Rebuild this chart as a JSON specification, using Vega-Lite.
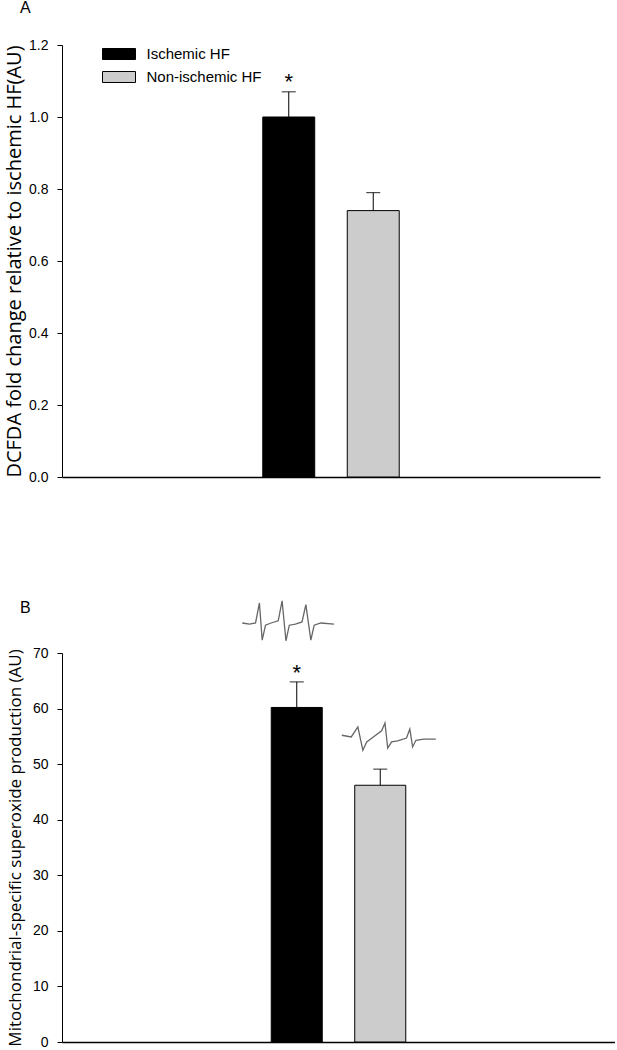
{
  "$schema": "https://vega.github.io/schema/vega-lite/v6.json",
  "padding": {"left": 4, "top": 0, "right": 0, "bottom": 0},
  "background": "white",
  "spacing": 114,
  "config": {
    "view": {"stroke": null},
    "font": "Liberation Sans",
    "axis": {
      "domainColor": "black",
      "tickColor": "black",
      "labelColor": "black",
      "labelFont": "Liberation Sans",
      "labelFontSize": 14,
      "tickSize": 5,
      "labelPadding": 9,
      "titleFont": "Open Sans",
      "titleFontSize": 20,
      "titleFontWeight": "normal",
      "titleColor": "black",
      "grid": false
    },
    "title": {"font": "Liberation Sans", "fontSize": 16, "fontWeight": "normal", "color": "black"}
  },
  "resolve": {"scale": {"color": "independent"}, "legend": {"color": "independent"}},
  "datasets": {
    "a": [
      {"group": "Ischemic HF", "mean": 1.0, "upper": 1.07, "sig": "*"},
      {"group": "Non-ischemic HF", "mean": 0.74, "upper": 0.79, "sig": ""}
    ],
    "b": [
      {"group": "Ischemic HF", "mean": 60.2, "upper": 64.8, "sig": "*"},
      {"group": "Non-ischemic HF", "mean": 46.2, "upper": 49.1, "sig": ""}
    ],
    "spectra": [
      {"spectrum": "Ischemic HF", "field": 32.6, "signal": 75.4},
      {"spectrum": "Ischemic HF", "field": 33.9, "signal": 75.2},
      {"spectrum": "Ischemic HF", "field": 35.0, "signal": 75.4},
      {"spectrum": "Ischemic HF", "field": 35.7, "signal": 79.0},
      {"spectrum": "Ischemic HF", "field": 36.2, "signal": 72.3},
      {"spectrum": "Ischemic HF", "field": 36.8, "signal": 75.0},
      {"spectrum": "Ischemic HF", "field": 37.8, "signal": 75.4},
      {"spectrum": "Ischemic HF", "field": 39.1, "signal": 75.8},
      {"spectrum": "Ischemic HF", "field": 39.8, "signal": 79.4},
      {"spectrum": "Ischemic HF", "field": 40.5, "signal": 72.2},
      {"spectrum": "Ischemic HF", "field": 41.1, "signal": 75.0},
      {"spectrum": "Ischemic HF", "field": 42.2, "signal": 75.2},
      {"spectrum": "Ischemic HF", "field": 43.4, "signal": 75.6},
      {"spectrum": "Ischemic HF", "field": 44.1, "signal": 78.7},
      {"spectrum": "Ischemic HF", "field": 45.0, "signal": 72.3},
      {"spectrum": "Ischemic HF", "field": 45.6, "signal": 75.0},
      {"spectrum": "Ischemic HF", "field": 46.8, "signal": 75.4},
      {"spectrum": "Ischemic HF", "field": 49.2, "signal": 75.2},
      {"spectrum": "Non-ischemic HF", "field": 50.6, "signal": 55.2},
      {"spectrum": "Non-ischemic HF", "field": 52.3, "signal": 54.9},
      {"spectrum": "Non-ischemic HF", "field": 53.5, "signal": 56.7},
      {"spectrum": "Non-ischemic HF", "field": 54.4, "signal": 52.5},
      {"spectrum": "Non-ischemic HF", "field": 55.1, "signal": 54.0},
      {"spectrum": "Non-ischemic HF", "field": 56.6, "signal": 55.1},
      {"spectrum": "Non-ischemic HF", "field": 57.8, "signal": 56.0},
      {"spectrum": "Non-ischemic HF", "field": 58.4, "signal": 57.4},
      {"spectrum": "Non-ischemic HF", "field": 58.9, "signal": 52.9},
      {"spectrum": "Non-ischemic HF", "field": 59.6, "signal": 54.0},
      {"spectrum": "Non-ischemic HF", "field": 60.7, "signal": 54.2},
      {"spectrum": "Non-ischemic HF", "field": 62.3, "signal": 54.7},
      {"spectrum": "Non-ischemic HF", "field": 62.9, "signal": 56.3},
      {"spectrum": "Non-ischemic HF", "field": 63.4, "signal": 53.1},
      {"spectrum": "Non-ischemic HF", "field": 64.0, "signal": 54.3},
      {"spectrum": "Non-ischemic HF", "field": 65.4, "signal": 54.5},
      {"spectrum": "Non-ischemic HF", "field": 67.6, "signal": 54.5}
    ]
  },
  "vconcat": [
    {
      "width": 538,
      "height": 432,
      "title": {"text": "A", "anchor": "start", "frame": "group", "dx": -42, "offset": 22},
      "data": {"name": "a"},
      "encoding": {
        "x": {
          "field": "group", "type": "nominal",
          "scale": {"domain": ["_l2", "_l1", "Ischemic HF", "Non-ischemic HF", "_r1", "_r2"], "paddingInner": 0.385, "paddingOuter": 0.376},
          "axis": {"labels": false, "ticks": false, "title": null, "domainWidth": 1.5}
        }
      },
      "layer": [
        {
          "mark": {"type": "bar", "stroke": "black", "strokeWidth": 1},
          "encoding": {
            "y": {
              "field": "mean", "type": "quantitative",
              "scale": {"domain": [0, 1.2]},
              "axis": {"title": "DCFDA fold change relative to ischemic HF(AU)", "values": [0, 0.2, 0.4, 0.6, 0.8, 1.0, 1.2], "format": ".1f", "titlePadding": 4}
            },
            "color": {
              "field": "group", "type": "nominal",
              "scale": {"domain": ["Ischemic HF", "Non-ischemic HF"], "range": ["#000000", "#cccccc"]},
              "legend": {
                "orient": "none", "legendX": 45.5, "legendY": -2.5, "title": null, "padding": 0,
                "symbolType": "M-1.5,-0.5H1.5V0.5H-1.5Z", "symbolSize": 484,
                "symbolStrokeColor": "black", "symbolStrokeWidth": 1,
                "labelFont": "Liberation Sans", "labelFontSize": 15, "labelColor": "black",
                "labelOffset": 16, "rowPadding": 3
              }
            }
          }
        },
        {
          "mark": {"type": "rule", "color": "black", "strokeWidth": 1},
          "encoding": {"y": {"field": "mean", "type": "quantitative"}, "y2": {"field": "upper"}}
        },
        {
          "mark": {"type": "tick", "color": "black", "size": 14, "thickness": 1.2},
          "encoding": {"y": {"field": "upper", "type": "quantitative"}}
        },
        {
          "mark": {"type": "text", "baseline": "alphabetic", "dy": -3, "fontSize": 22, "font": "Liberation Sans"},
          "encoding": {"y": {"field": "upper", "type": "quantitative"}, "text": {"field": "sig"}}
        }
      ]
    },
    {
      "width": 553,
      "height": 389,
      "title": {"text": "B", "anchor": "start", "frame": "group", "dx": -42, "offset": -17.5},
      "resolve": {"scale": {"x": "independent"}, "axis": {"x": "independent"}},
      "layer": [
        {
          "data": {"name": "b"},
          "layer": [
            {
              "mark": {"type": "bar", "stroke": "black", "strokeWidth": 1},
              "encoding": {
                "x": {
                  "field": "group", "type": "nominal",
                  "scale": {"domain": ["_l2", "_l1", "Ischemic HF", "Non-ischemic HF", "_r1", "_r2"], "paddingInner": 0.389, "paddingOuter": 0.506},
                  "axis": {"labels": false, "ticks": false, "title": null, "domainWidth": 1.5}
                },
                "y": {
                  "field": "mean", "type": "quantitative",
                  "scale": {"domain": [0, 70]},
                  "axis": {"title": "Mitochondrial-specific superoxide production (AU)", "values": [0, 10, 20, 30, 40, 50, 60, 70], "titlePadding": 8, "titleFontSize": 17}
                },
                "color": {
                  "field": "group", "type": "nominal",
                  "scale": {"domain": ["Ischemic HF", "Non-ischemic HF"], "range": ["#000000", "#cccccc"]},
                  "legend": null
                }
              }
            },
            {
              "mark": {"type": "rule", "color": "black", "strokeWidth": 1},
              "encoding": {
                "x": {"field": "group", "type": "nominal"},
                "y": {"field": "mean", "type": "quantitative"}, "y2": {"field": "upper"}
              }
            },
            {
              "mark": {"type": "tick", "color": "black", "size": 14, "thickness": 1.2},
              "encoding": {
                "x": {"field": "group", "type": "nominal"},
                "y": {"field": "upper", "type": "quantitative"}
              }
            },
            {
              "mark": {"type": "text", "baseline": "alphabetic", "dy": -2, "fontSize": 22, "font": "Liberation Sans"},
              "encoding": {
                "x": {"field": "group", "type": "nominal"},
                "y": {"field": "upper", "type": "quantitative"},
                "text": {"field": "sig"}
              }
            }
          ]
        },
        {
          "data": {"name": "spectra"},
          "mark": {"type": "line", "color": "#666666", "strokeWidth": 1.3, "clip": false},
          "encoding": {
            "x": {"field": "field", "type": "quantitative", "scale": {"domain": [0, 100]}, "axis": null},
            "y": {"field": "signal", "type": "quantitative", "title": "Mitochondrial-specific superoxide production (AU)"},
            "detail": {"field": "spectrum"}
          }
        }
      ]
    }
  ]
}
